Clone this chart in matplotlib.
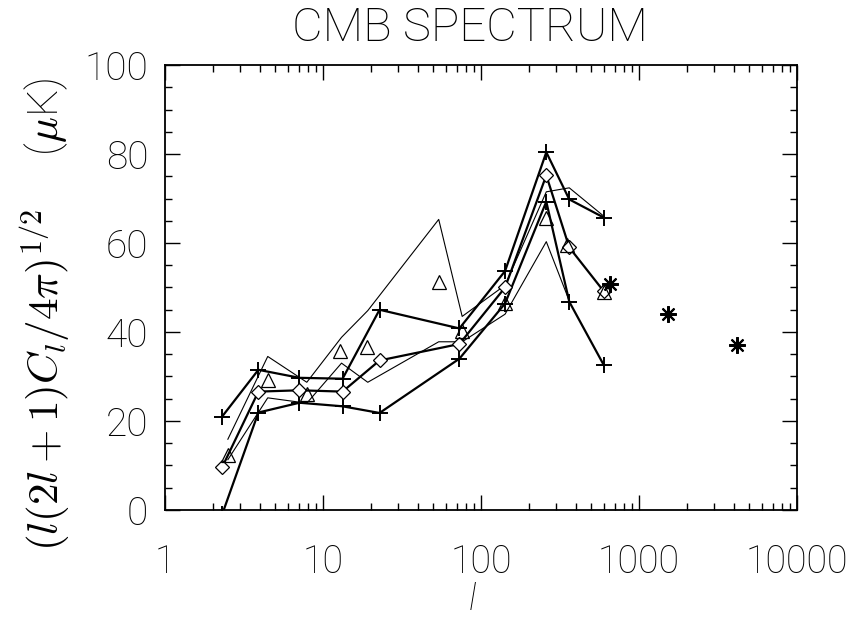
import matplotlib
matplotlib.use("Agg")
import matplotlib.pyplot as plt
from matplotlib.ticker import MultipleLocator, LogLocator, FixedLocator, NullFormatter

# multipole positions and band powers (uK)
l_main = [2.3, 3.9, 7.1, 13.3, 22.8, 73, 142, 259, 362, 600]
plus_hi = [21.0, 31.5, 29.7, 29.5, 45.0, 40.8, 53.7, 80.4, 69.8, 65.7]
plus_lo = [-1.0, 21.9, 24.1, 23.3, 21.8, 34.0, 46.4, 69.3, 46.8, 32.5]
diamond = [9.6, 26.6, 26.9, 26.6, 33.6, 37.3, 50.0, 75.2, 59.0, 49.1]

l_tri = [2.5, 4.47, 7.9, 12.9, 18.9, 54.6, 75.3, 142, 259, 351, 600]
tri = [12.4, 29.3, 26.0, 35.8, 36.7, 51.3, 40.3, 46.6, 65.7, 59.6, 48.9]

l_thin = [2.5, 4.47, 7.9, 13.1, 19.2, 54, 76, 142, 259, 362, 600]
thin_a = [15.9, 34.5, 28.7, 38.8, 44.8, 65.3, 43.5, 50.5, 71.5, 72.4, 66.0]
thin_b = [11.3, 25.2, 24.0, 33.0, 28.7, 37.8, 37.8, 44.0, 60.3, 47.0]

l_star = [657, 1527, 4170]
star = [50.7, 44.0, 37.0]

plt.rcParams["font.family"] = ["Roboto", "DejaVu Sans"]
plt.rcParams["font.weight"] = "light"
plt.rcParams["mathtext.fontset"] = "cm"

fig = plt.figure(figsize=(8.62, 6.18), dpi=100)
ax = fig.add_axes([0.1914, 0.1748, 0.7332, 0.72])

ax.plot(l_thin, thin_a, "-", color="black", lw=0.8)
ax.plot(l_thin[:len(thin_b)], thin_b, "-", color="black", lw=0.8)
ax.plot(l_main, plus_hi, "-", color="black", lw=1.6, marker="+", ms=12, mew=1.4)
ax.plot(l_main, plus_lo, "-", color="black", lw=1.6, marker="+", ms=12, mew=1.4)
ax.plot(l_main, diamond, "-", color="black", lw=1.6, marker="D", ms=7.5,
        mfc="white", mec="black", mew=0.9)
ax.plot(l_tri, tri, ls="none", marker="^", ms=10, mfc="none", mec="black", mew=0.9)
ax.plot(l_star, star, ls="none", marker=(8, 2, 0), ms=12, mec="black", mew=1.5)

ax.set_xscale("log")
ax.set_xlim(1, 10000)
ax.set_ylim(0, 100)
ax.xaxis.set_major_locator(FixedLocator([1, 10, 100, 1000, 10000]))
ax.set_xticklabels(["1", "10", "100", "1000", "10000"])
ax.xaxis.set_minor_locator(LogLocator(base=10, subs=range(2, 10)))
ax.xaxis.set_minor_formatter(NullFormatter())
ax.yaxis.set_major_locator(MultipleLocator(20))
ax.yaxis.set_minor_locator(MultipleLocator(5))

ax.tick_params(which="both", direction="in", top=True, right=True, width=1.0)
ax.tick_params(which="major", length=11)
ax.tick_params(which="minor", length=5)
ax.tick_params(axis="y", which="major", labelsize=28, pad=12)
ax.tick_params(axis="x", which="major", labelsize=27, pad=24)
for s in ax.spines.values():
    s.set_linewidth(1.3)

fig.text(0.545, 0.955, "CMB SPECTRUM", fontsize=34, fontweight="light",
         ha="center", va="center")
fig.text(0.548, 0.0, "l", fontsize=26, fontweight="light", fontstyle="italic",
         ha="center", va="bottom")
ax.set_ylabel(r"$(l(2l+1)C_l/4\pi)^{1/2}$     ($\mu$K)", fontsize=31,
              fontweight="light")
ax.yaxis.set_label_coords(-0.145, 0.44)

fig.savefig("out.png", dpi=100)
